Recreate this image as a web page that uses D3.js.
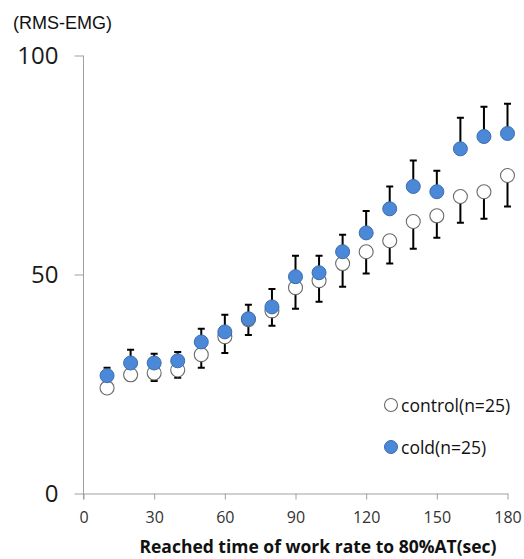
<!DOCTYPE html>
<html>
<head>
<meta charset="utf-8">
<script src="https://cdn.jsdelivr.net/npm/d3@7"></script>
<style>
  html, body { margin: 0; padding: 0; background: #fff; }
  svg { display: block; }
</style>
</head>
<body>
<svg id="chart" width="524" height="559"></svg>
<script>
// ---- data ----
const times = [10,20,30,40,50,60,70,80,90,100,110,120,130,140,150,160,170,180];
const controlMean = [24.1,27.1,27.5,28.2,31.7,35.8,39.7,41.7,47.0,48.6,52.5,55.2,57.7,62.1,63.4,67.8,68.9,72.6];
const controlSD   = [0.9,1.2,1.8,1.8,3.0,3.7,3.5,3.4,4.8,4.8,5.3,5.0,5.2,6.2,5.0,6.0,6.2,7.1];
const coldMean    = [26.9,29.8,29.8,30.3,34.6,36.9,39.9,42.6,49.5,50.4,55.2,59.5,65.0,70.1,68.9,78.7,81.5,82.2];
const coldSD      = [1.8,3.0,2.1,2.0,3.0,3.9,3.2,4.1,4.8,3.9,3.9,5.0,5.1,5.9,4.8,7.1,6.8,6.8];
const xTicks = [0,30,60,90,120,150,180];
const yTicks = [0,50,100];
const legendLabels = ["control(n=25)", "cold(n=25)"];

const svg = d3.select("#chart");
const x = d3.scaleLinear().domain([0,180]).range([83.5,507.5]);
const y = d3.scaleLinear().domain([0,100]).range([493.5,55.5]);

const axisColor = "#a0a0a0";

// y axis
const yAxis = svg.append("g").attr("transform", `translate(${x(0)},0)`)
  .call(d3.axisLeft(y).tickValues(yTicks).tickSize(9).tickPadding(16).tickSizeOuter(0));
yAxis.select(".domain").attr("stroke", axisColor).attr("d", `M0,${y(100)}V${y(0)+6}`);
yAxis.selectAll(".tick line").attr("stroke", axisColor);
yAxis.selectAll(".tick text").attr("fill", "#1a1a1a")
  .style("font-family", "'Open Sans', sans-serif").style("font-size", "24px");

// x axis
const xAxis = svg.append("g").attr("transform", `translate(0,${y(0)})`)
  .call(d3.axisBottom(x).tickValues(xTicks).tickSize(6).tickPadding(12).tickSizeOuter(0));
xAxis.select(".domain").attr("stroke", axisColor);
xAxis.selectAll(".tick line").attr("stroke", axisColor);
xAxis.selectAll(".tick text").attr("fill", "#333")
  .style("font-family", "'Open Sans', sans-serif").style("font-size", "16px");

// titles
svg.append("text").attr("x", 13).attr("y", 29).text("(RMS-EMG)")
  .style("font-family", "'Liberation Sans', Arial, sans-serif").style("font-size", "18px").attr("fill", "#111");
svg.append("text").attr("x", 318).attr("y", 553).attr("text-anchor", "middle")
  .text("Reached time of work rate to 80%AT(sec)")
  .style("font-family", "'Open Sans', sans-serif").style("font-size", "17.5px").style("font-weight", "bold").attr("fill", "#111");

const ctrl = times.map((t,i) => ({t, m: controlMean[i], sd: controlSD[i]}));
const cold = times.map((t,i) => ({t, m: coldMean[i], sd: coldSD[i]}));
const cap = 3.5;
const r = 7;
const blue = "#4b88d8", blueStroke = "#3b6cae";

function bars(data, dir, cls) {
  const g = svg.append("g").attr("class", cls).attr("stroke", "#000").attr("stroke-width", 2).attr("fill", "none");
  g.selectAll("path").data(data).join("path")
    .attr("d", d => {
      const xc = x(d.t), y1 = y(d.m), y2 = y(d.m + dir*d.sd);
      return `M${xc},${y1}V${y2}M${xc-cap},${y2}H${xc+cap}`;
    });
}

bars(ctrl, -1, "ctrl-bars");
svg.append("g").selectAll("circle").data(ctrl).join("circle")
  .attr("cx", d => x(d.t)).attr("cy", d => y(d.m)).attr("r", r)
  .attr("fill", "#fff").attr("stroke", "#6a6a6a").attr("stroke-width", 1.1);
bars(cold, 1, "cold-bars");
svg.append("g").selectAll("circle").data(cold).join("circle")
  .attr("cx", d => x(d.t)).attr("cy", d => y(d.m)).attr("r", r)
  .attr("fill", blue).attr("stroke", blueStroke).attr("stroke-width", 1);

// legend
const leg = svg.append("g");
const legY = [405, 447];
leg.append("circle").attr("cx", 391).attr("cy", legY[0]).attr("r", 6.5)
  .attr("fill", "#fff").attr("stroke", "#6a6a6a").attr("stroke-width", 1.1);
leg.append("circle").attr("cx", 391).attr("cy", legY[1]).attr("r", 6.5)
  .attr("fill", blue).attr("stroke", blueStroke);
legendLabels.forEach((lab, i) => {
  leg.append("text").attr("x", 401).attr("y", legY[i] + 6.5).text(lab)
    .style("font-family", "'Open Sans', sans-serif").style("font-size", "17.5px").attr("fill", "#111");
});
</script>
</body>
</html>
